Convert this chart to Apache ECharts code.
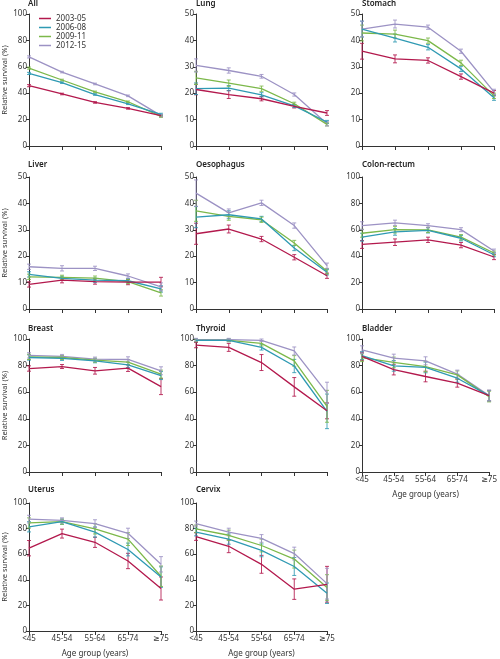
<!DOCTYPE html>
<html><head><meta charset="utf-8">
<script src="https://cdn.jsdelivr.net/npm/echarts@6/dist/echarts.min.js"></script>
<style>html,body{margin:0;padding:0;background:#fff}#c{width:500px;height:659px}</style>
</head><body><div id="c"></div>
<script>
const ageGroups = ['<45', '45-54', '55-64', '65-74', '≥75'];
const periods = ['2003-05', '2006-08', '2009-11', '2012-15'];
const periodColors = ['#b3194d', '#2f9ab3', '#7cb84a', '#9c92c4'];
const panelNames = ['All', 'Lung', 'Stomach', 'Liver', 'Oesophagus', 'Colon-rectum', 'Breast', 'Thyroid', 'Bladder', 'Uterus', 'Cervix'];
const panelMax = [100, 50, 50, 50, 50, 100, 100, 100, 100, 100, 100];
const panelInterval = [20, 10, 10, 10, 10, 20, 20, 20, 20, 20, 20];

// survival values per period (rows: 2003-05, 2006-08, 2009-11, 2012-15)
const survAll = [[45.7, 39.4, 33, 28.5, 23], [55, 48, 39, 32, 24], [59, 50, 41, 33.5, 22.5], [67.5, 56, 47, 38, 23]];
const errAll = [[0.8, 0.6, 0.6, 0.6, 0.8], [0.8, 0.6, 0.6, 0.6, 0.8], [0.8, 0.6, 0.6, 0.6, 0.8], [0.8, 0.6, 0.6, 0.6, 0.8]];
const survLung = [[21.4, 19.5, 17.9, 15, 12.5], [21.7, 21.9, 19.4, 15.2, 9.1], [25.8, 23.8, 21.7, 16, 8.2], [30.5, 28.6, 26.4, 19.5, 8.4]];
const errLung = [[2, 1.5, 0.8, 0.6, 0.9], [2.2, 1, 0.8, 0.6, 0.6], [2.5, 1.2, 1, 0.6, 0.6], [2.5, 1, 0.7, 0.6, 0.8]];
const survStomach = [[35.9, 33, 32.4, 26.3, 20], [44.3, 40.9, 37.4, 29.2, 18.3], [42.8, 42.4, 39.9, 31.5, 19], [44.3, 46.2, 45, 35.9, 20.5]];
const errStomach = [[3, 1.5, 1, 1, 1], [3, 1.5, 1, 1, 1], [3, 1.5, 1, 1, 1], [3, 1.5, 0.8, 0.8, 1]];
const survLiver = [[9.3, 10.9, 10.4, 10.2, 10.2], [13.1, 11.6, 10.9, 10.7, 7.6], [12.2, 12, 11.7, 10.4, 6.1], [16, 15.4, 15.4, 12.5, 8.4]];
const errLiver = [[1, 1, 1, 1, 1.8], [1, 0.8, 0.8, 0.8, 1.2], [1, 0.8, 0.8, 0.8, 1.2], [1, 1, 0.8, 0.8, 1.5]];
const survOesophagus = [[28.5, 30.3, 26.5, 19.6, 12.6], [34.8, 35.7, 34.1, 23.1, 13.9], [37.2, 35.1, 33.8, 25, 14.3], [43.9, 36.4, 40.2, 31.6, 16.4]];
const errOesophagus = [[4, 1.5, 1, 1, 1], [4, 1.5, 1, 1, 1], [4, 1.5, 1, 1, 1], [5, 1.5, 1, 1, 1]];
const survColon = [[48.9, 50.6, 52.4, 48.4, 39.4], [54.4, 58.4, 59.6, 53.6, 41.1], [57.4, 60.1, 59.9, 54.4, 42.4], [63.1, 65.3, 63.1, 60.1, 43.9]];
const errColon = [[3, 2.5, 2, 2, 2], [3, 2.5, 2, 2, 1.5], [3, 2.5, 2, 2, 1.5], [3, 2, 1.5, 1.5, 1.5]];
const survBreast = [[77.8, 79.3, 76.1, 78.1, 64.2], [86.1, 85.4, 83.6, 80.6, 72.5], [86.6, 86.1, 84.1, 82.6, 73.6], [87.7, 86.9, 84.9, 84.6, 76.1]];
const errBreast = [[2, 1.5, 2.5, 2.5, 6], [2, 1.5, 1.5, 2, 3], [2, 1.5, 1.5, 2, 3], [2, 1.5, 1.5, 2, 3]];
const survThyroid = [[95.4, 93.7, 82.3, 64, 46], [99, 99, 93.7, 79.7, 45.6], [99, 99, 96.7, 83.5, 49.4], [99.5, 99.5, 99, 91, 59.5]];
const errThyroid = [[2, 3, 6, 7, 6], [1, 1, 2, 5, 13], [1, 1, 2, 4, 12], [1, 1, 1, 3, 8]];
const survBladder = [[87, 77, 71.8, 66.8, 57.4], [87.5, 79.8, 78.6, 70.5, 57.4], [86, 82.4, 79.3, 73, 56.7], [91.9, 85.6, 83.6, 73.6, 57.4]];
const errBladder = [[3, 4, 4, 3, 4], [3, 4, 4, 3, 4], [3, 4, 4, 3, 4], [3, 3, 3, 3, 4]];
const survUterus = [[64.7, 76.1, 69.3, 54.7, 33.2], [81.4, 85.4, 77.3, 63.7, 42.1], [84.4, 85.4, 79.8, 71.8, 42.8], [87.4, 86.4, 83.9, 76.3, 52.1]];
const errUterus = [[6, 3.5, 4, 6, 9], [4, 2, 4, 5, 8], [4, 2, 4, 5, 8], [3, 2, 3, 4, 6]];
const survCervix = [[73.8, 66.2, 52.1, 32.7, 36.5], [77.3, 71.8, 63, 50.4, 29.5], [79.8, 74.8, 66.8, 56.2, 34], [83.9, 77.3, 72.3, 60.5, 37]];
const errCervix = [[3, 5, 7, 8, 14], [3, 4, 5, 7, 8], [3, 4, 5, 7, 10], [2, 3, 3, 5, 12]];

const panelSurv = [survAll, survLung, survStomach, survLiver, survOesophagus, survColon, survBreast, survThyroid, survBladder, survUterus, survCervix];
const panelErr = [errAll, errLung, errStomach, errLiver, errOesophagus, errColon, errBreast, errThyroid, errBladder, errUterus, errCervix];

const colLeft = [28, 196, 362], colWidth = [133, 131, 132];
const rowTop = [14, 177, 339, 503], rowHeight = [132, 132, 133, 132];
const titleTop = [0, 161, 325, 486];
const bottomPanels = [8, 9, 10];
const FONT = '"Noto Sans", "DejaVu Sans", sans-serif';

const grids = [], xAxes = [], yAxes = [], series = [], titles = [];
panelNames.forEach((name, i) => {
  const r = Math.floor(i / 3), c = i % 3;
  grids.push({ left: colLeft[c], top: rowTop[r], width: colWidth[c], height: rowHeight[r] });
  titles.push({ text: name, left: colLeft[c], top: titleTop[r], padding: 0,
    textStyle: { fontSize: 8, fontWeight: 600, color: '#222', fontFamily: FONT } });
  const bottom = bottomPanels.includes(i);
  xAxes.push({ gridIndex: i, type: 'category', data: ageGroups, boundaryGap: false,
    axisLine: { lineStyle: { color: '#333', width: 1 } },
    axisTick: { show: true, length: 4, lineStyle: { color: '#333' } },
    axisLabel: { show: bottom, fontSize: 8, color: '#333', margin: 4, fontFamily: FONT },
    name: bottom ? 'Age group (years)' : '', nameLocation: 'middle', nameGap: 19,
    nameTextStyle: { fontSize: 8, color: '#333', fontFamily: FONT } });
  yAxes.push({ gridIndex: i, type: 'value', min: 0, max: panelMax[i], interval: panelInterval[i],
    axisLine: { show: true, lineStyle: { color: '#333', width: 1 } },
    axisTick: { show: true, length: 3, lineStyle: { color: '#333' } },
    splitLine: { show: false },
    axisLabel: { fontSize: 8, color: '#333', margin: 2, fontFamily: FONT },
    name: c === 0 ? 'Relative survival (%)' : '', nameLocation: 'middle', nameGap: 20,
    nameTextStyle: { fontSize: 7.5, color: '#333', fontFamily: FONT } });
  periods.forEach((p, k) => {
    const vals = panelSurv[i][k], errs = panelErr[i][k];
    series.push({ type: 'custom', name: p, xAxisIndex: i, yAxisIndex: i, silent: true, z: 1,
      data: vals.map((v, j) => [j, v - errs[j], v + errs[j]]),
      encode: { x: 0, y: [1, 2] },
      renderItem: (params, api) => {
        const lo = api.coord([api.value(0), api.value(1)]);
        const hi = api.coord([api.value(0), api.value(2)]);
        const st = { stroke: periodColors[k], lineWidth: 1, opacity: 0.85 };
        return { type: 'group', children: [
          { type: 'line', shape: { x1: lo[0], y1: lo[1], x2: hi[0], y2: hi[1] }, style: st },
          { type: 'line', shape: { x1: lo[0] - 2, y1: lo[1], x2: lo[0] + 2, y2: lo[1] }, style: st },
          { type: 'line', shape: { x1: hi[0] - 2, y1: hi[1], x2: hi[0] + 2, y2: hi[1] }, style: st }
        ] };
      } });
    series.push({ type: 'line', name: p, xAxisIndex: i, yAxisIndex: i, data: vals,
      showSymbol: false, silent: true, z: 2 + (3 - k),
      lineStyle: { width: 1.3, color: periodColors[k] }, itemStyle: { color: periodColors[k] } });
  });
});

const chart = echarts.init(document.getElementById('c'));
chart.setOption({
  animation: false,
  backgroundColor: '#fff',
  color: periodColors,
  title: titles,
  grid: grids,
  xAxis: xAxes,
  yAxis: yAxes,
  legend: { data: periods, left: 34, top: 9, orient: 'vertical', icon: 'rect',
    itemWidth: 12, itemHeight: 1.5, itemGap: 0,
    textStyle: { fontSize: 8, color: '#333', lineHeight: 9, fontFamily: FONT } },
  series: series
});
</script></body></html>
